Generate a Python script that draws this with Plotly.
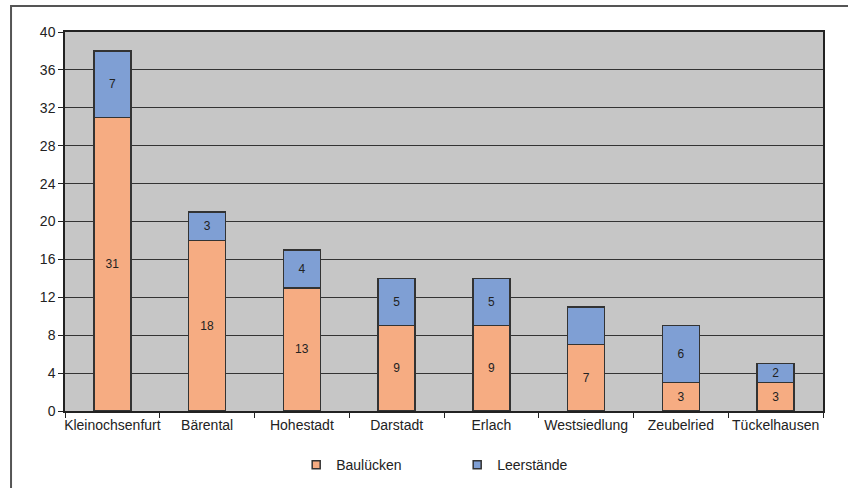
import plotly.graph_objects as go

categories = ["Kleinochsenfurt", "Bärental", "Hohestadt", "Darstadt", "Erlach",
              "Westsiedlung", "Zeubelried", "Tückelhausen"]
baulucken = [31, 18, 13, 9, 9, 7, 3, 3]
leerstaende = [7, 3, 4, 5, 5, 4, 6, 2]
leer_labels = ["7", "3", "4", "5", "5", "", "6", "2"]
y_ticks = list(range(0, 41, 4))

ORANGE = "#F6AC82"
BLUE = "#7F9FD4"
EDGE = "#333333"
FONT = "Liberation Sans, Arial, sans-serif"

fig = go.Figure()
fig.add_trace(go.Bar(
    x=categories, y=baulucken, name="Baulücken", showlegend=False,
    marker=dict(color=ORANGE, line=dict(color=EDGE, width=1.5)),
    text=[str(v) for v in baulucken], textposition="inside",
    insidetextanchor="middle", textangle=0, constraintext="none",
    textfont=dict(family=FONT, size=12, color="#222222"),
))
fig.add_trace(go.Bar(
    x=categories, y=leerstaende, name="Leerstände", showlegend=False,
    marker=dict(color=BLUE, line=dict(color=EDGE, width=1.5)),
    text=leer_labels, textposition="inside",
    insidetextanchor="middle", textangle=0, constraintext="none",
    textfont=dict(family=FONT, size=12, color="#222222"),
))
# legend entries with small square symbols
for nm, col in [("Baulücken", ORANGE), ("Leerstände", BLUE)]:
    fig.add_trace(go.Scatter(
        x=[None], y=[None], mode="markers", name=nm,
        marker=dict(symbol="square", size=8, color=col, line=dict(color=EDGE, width=1.5)),
    ))

fig.update_layout(
    width=848, height=488,
    margin=dict(l=65, r=25, t=32, b=77, autoexpand=False),
    barmode="stack", bargap=0.61,
    plot_bgcolor="#C6C6C6", paper_bgcolor="white",
    font=dict(family=FONT, size=14, color="#222222"),
    uniformtext=dict(mode="show", minsize=12),
    legend=dict(orientation="h", x=0.305, xanchor="left", y=-0.143, yanchor="middle",
                entrywidth=116, font=dict(size=14), tracegroupgap=0,
                traceorder="normal", itemwidth=30),
    xaxis=dict(showline=True, linecolor="#222222", linewidth=1.5, mirror=True,
               ticks="outside", tickson="boundaries", ticklen=5, tickcolor="#222222",
               showgrid=False, tickangle=0, tickfont=dict(size=14),
               automargin=False),
    yaxis=dict(range=[0, 40], tickvals=y_ticks, showline=True, linecolor="#222222",
               linewidth=1.5, mirror=True, ticks="outside", ticklen=5,
               tickcolor="#222222", showgrid=True, gridcolor="#333333", gridwidth=1,
               zeroline=False, tickfont=dict(size=14), automargin=False),
    shapes=[dict(type="rect", xref="paper", yref="paper",
                 x0=-0.0712, x1=1.2, y0=-0.4, y1=1.0686,
                 line=dict(color="#555555", width=2))],
)

fig.write_html("out.html")
